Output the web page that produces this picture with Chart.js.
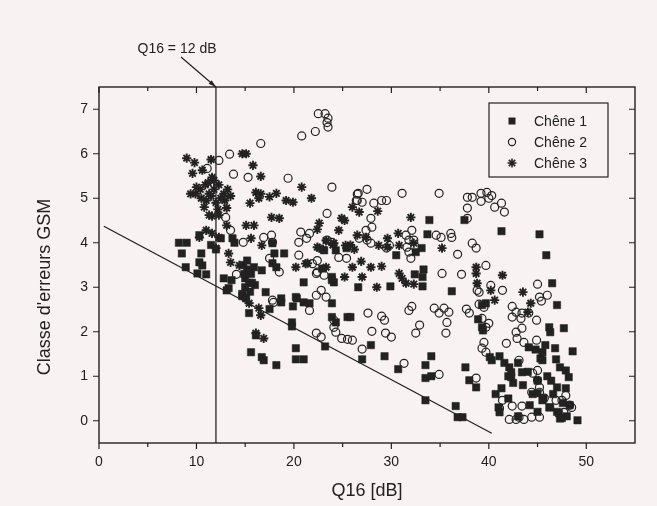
<!DOCTYPE html>
<html>
<head>
<meta charset="utf-8">
<script src="https://cdn.jsdelivr.net/npm/chart.js@4.4.1/dist/chart.umd.min.js"></script>
<style>
  html, body { margin: 0; padding: 0; background: #f8f2f2; }
  #wrap { width: 657px; height: 506px; }
</style>
</head>
<body>
<div id="wrap"><canvas id="chart" width="657" height="506"></canvas></div>
<script>
// values (x = Q16 in dB, y = GSM error class)
var chene1 = [
  [8.2,4.0],[9.0,4.0],[10.3,4.17],[8.5,3.76],[10.5,3.76],[10.3,3.56],[10.6,3.49],[8.9,3.45],[10.1,3.31],[11.0,3.29],
  [11.5,3.95],[12.0,3.85],[12.5,4.1],[13.7,4.1],[13.9,4.0],[12.8,3.2],[13.6,3.16],[13.1,2.93],[14.8,3.5],[15.2,3.4],
  [15.6,3.3],[15.0,3.2],[15.4,3.1],[15.0,3.0],[15.5,2.9],[14.7,2.8],[15.9,3.45],[16.0,3.05],[15.2,3.6],[14.9,3.3],
  [15.7,3.1],[16.7,3.38],[17.1,2.89],[17.8,3.99],[18.0,3.76],[17.8,3.54],[18.2,3.45],[19.0,3.76],[21.0,3.11],[22.9,3.42],
  [23.9,3.23],[24.1,3.11],[20.2,2.78],[23.1,3.83],[24.3,3.83],[25.4,3.88],[18.7,2.75],[13.3,2.98],[14.7,2.85],[15.1,2.75],
  [15.4,2.42],[17.5,2.51],[18.7,2.66],[19.9,2.57],[20.3,2.75],[21.0,2.66],[21.6,2.64],[19.8,2.21],[19.8,2.12],[23.9,2.64],
  [23.9,2.33],[24.3,2.21],[25.5,2.33],[23.2,1.67],[16.1,1.92],[15.6,1.54],[16.7,1.43],[16.9,1.36],[18.2,1.25],[20.2,1.63],
  [20.2,1.38],[21.0,1.38],[33.9,4.51],[37.5,4.51],[33.7,4.19],[41.3,4.26],[45.2,4.19],[33.1,3.88],[30.5,3.72],[32.5,3.79],
  [45.9,3.72],[33.3,3.4],[33.2,3.23],[32.4,3.29],[33.2,3.02],[29.9,3.02],[26.6,3.0],[23.9,3.16],[36.2,2.91],[46.5,3.09],
  [47.0,2.6],[25.8,2.33],[27.9,1.7],[27.0,1.38],[29.3,1.45],[30.7,1.16],[33.5,1.25],[34.1,1.45],[33.5,0.96],[34.1,1.0],
  [33.5,0.46],[36.6,0.33],[36.8,0.08],[37.3,0.08],[37.6,1.2],[38.0,0.91],[38.7,0.75],[38.9,2.28],[39.3,2.1],[39.4,2.03],
  [39.3,2.6],[39.7,2.64],[40.1,1.43],[40.3,1.36],[46.2,2.1],[46.3,1.99],[47.7,2.08],[46.8,1.63],[48.6,1.56],[46.9,1.38],
  [47.3,1.2],[47.9,1.13],[48.2,0.98],[47.9,0.73],[49.1,0.01],[41.1,1.45],[41.6,1.3],[42.0,1.0],[42.5,0.85],[43.0,1.3],
  [43.5,0.8],[44.0,1.1],[44.5,0.6],[45.0,0.9],[45.3,1.4],[45.6,0.5],[46.0,1.0],[46.3,0.3],[46.6,0.6],[47.0,0.2],
  [47.3,0.05],[47.6,0.4],[48.0,0.1],[45.0,0.2],[44.2,0.35],[43.0,0.1],[41.0,0.3],[40.7,0.6],[42.0,0.5],[44.8,1.6],
  [45.8,1.7],[46.4,0.9],[47.0,0.75],[48.3,0.35],[42.1,1.2],[42.3,1.09],[42.3,0.98],[43.4,1.09],[44.1,1.65],[45.5,1.54],
  [45.5,1.36],[41.3,0.73],[41.1,0.19],[45.0,0.62],[45.5,0.46],[46.2,0.3],[47.2,0.17],[47.5,0.06]
];
var chene2 = [
  [22.5,6.9],[23.2,6.9],[23.5,6.8],[23.4,6.7],[23.5,6.6],[22.2,6.5],[20.8,6.4],[16.6,6.23],[13.4,5.99],[12.3,5.85],
  [11.1,5.67],[13.8,5.54],[15.3,5.47],[19.4,5.45],[23.9,5.25],[26.5,5.09],[26.5,4.95],[23.4,4.66],[13.0,4.57],[13.5,4.28],
  [14.8,4.01],[16.9,4.12],[17.7,4.17],[17.8,4.01],[20.7,4.24],[21.6,4.21],[21.3,4.1],[20.5,4.01],[20.5,3.72],[21.9,3.53],
  [22.4,3.6],[17.5,3.65],[18.5,3.34],[22.3,3.31],[22.8,2.93],[22.3,2.82],[23.3,2.78],[24.6,3.67],[25.4,3.65],[14.1,3.29],
  [17.8,2.71],[27.5,5.2],[26.6,5.11],[26.4,4.95],[27.0,4.91],[28.2,4.89],[29.0,4.95],[29.5,4.95],[31.1,5.11],[34.9,5.11],
  [37.8,5.02],[38.3,5.02],[39.2,5.11],[39.8,5.13],[40.3,5.06],[39.2,4.93],[40.0,5.0],[41.3,4.89],[40.6,4.8],[41.6,4.69],
  [37.8,4.78],[37.8,4.55],[27.9,4.55],[28.0,4.35],[27.4,4.28],[26.7,4.1],[32.1,4.28],[31.5,4.17],[32.3,4.06],[34.6,4.17],
  [35.1,4.12],[36.1,4.21],[36.2,4.12],[38.3,3.99],[38.7,3.88],[23.4,4.06],[23.9,4.01],[27.5,4.06],[27.9,3.99],[29.5,3.88],
  [29.8,3.94],[31.8,4.06],[31.6,3.9],[31.8,3.79],[32.0,3.65],[36.8,3.74],[35.2,3.31],[37.2,3.29],[39.7,3.49],[39.0,2.89],
  [40.2,3.04],[41.4,2.93],[45.0,3.07],[45.2,2.78],[46.0,2.82],[22.4,3.34],[23.1,3.27],[17.9,2.66],[21.6,2.48],[22.3,1.97],
  [22.8,1.88],[24.1,2.1],[24.3,1.99],[24.9,1.85],[25.5,1.83],[45.4,2.69],[38.8,2.93],[39.0,2.62],[39.5,2.55],[39.3,2.3],
  [40.0,2.19],[39.7,2.1],[39.5,1.76],[39.3,1.63],[39.7,1.54],[42.4,2.57],[42.8,2.44],[43.4,2.42],[42.4,2.33],[43.3,2.3],
  [44.1,2.42],[44.9,2.26],[42.8,1.99],[43.4,2.08],[42.9,1.85],[43.6,1.76],[44.9,1.81],[41.8,1.74],[43.1,1.36],[44.5,1.07],
  [45.0,1.13],[45.0,0.91],[45.2,0.75],[44.4,0.64],[45.2,0.64],[45.7,0.51],[46.9,0.46],[47.5,0.46],[47.9,0.57],[48.3,0.35],
  [48.5,0.3],[47.7,0.19],[41.4,0.46],[42.4,0.33],[43.4,0.33],[41.1,0.28],[42.1,0.03],[42.8,0.03],[43.1,0.08],[43.6,0.03],
  [44.4,0.08],[45.2,0.08],[27.6,2.42],[29.0,2.35],[29.3,2.26],[31.8,2.48],[32.1,2.57],[34.4,2.53],[34.9,2.42],[35.4,2.53],
  [35.9,2.44],[37.7,2.51],[38.0,2.42],[32.9,2.15],[32.5,1.97],[35.7,2.21],[35.6,1.97],[28.0,2.01],[29.4,1.97],[30.0,1.88],
  [27.0,1.61],[31.3,1.29],[34.9,1.04],[38.7,0.96],[24.1,2.26],[26.0,1.81]
];
var chene3 = [
  [9.0,5.9],[9.8,5.8],[11.5,5.87],[9.6,5.56],[10.6,5.63],[11.6,5.47],[14.7,6.0],[15.1,6.0],[15.8,5.74],[16.6,5.49],
  [20.8,5.25],[21.8,5.0],[18.2,5.11],[16.1,5.13],[16.6,5.1],[15.5,4.89],[16.4,5.0],[17.5,5.03],[19.2,4.95],[19.9,4.91],
  [9.4,5.1],[9.9,5.1],[10.4,5.2],[10.9,5.3],[11.3,5.1],[11.8,5.2],[12.3,5.3],[12.8,5.1],[13.2,5.2],[11.0,4.95],
  [12.0,4.9],[12.9,4.95],[11.5,5.05],[10.0,5.25],[10.5,5.0],[11.2,5.35],[12.5,5.0],[13.5,5.05],[10.8,4.8],[12.2,4.75],
  [11.6,4.6],[17.7,4.57],[26.0,4.8],[24.9,4.55],[11.8,5.4],[11.3,4.62],[12.3,4.62],[13.1,4.78],[18.5,4.55],[15.1,4.39],
  [15.9,4.39],[13.1,4.39],[11.0,4.28],[11.6,4.21],[10.3,4.12],[12.3,4.12],[12.0,3.88],[15.6,4.1],[16.7,3.94],[13.3,3.76],
  [22.6,4.44],[22.4,3.9],[24.6,4.28],[25.2,4.5],[20.2,3.45],[21.2,3.53],[23.3,3.45],[25.2,3.23],[14.4,3.49],[13.5,3.56],
  [24.1,3.99],[25.3,3.94],[26.7,4.69],[28.6,4.71],[22.4,4.3],[26.5,4.17],[27.4,4.12],[29.6,4.1],[30.7,4.21],[32.0,4.57],
  [23.3,4.05],[24.0,3.95],[25.8,3.95],[26.2,3.85],[23.0,3.85],[28.7,3.94],[29.6,3.9],[30.8,3.94],[32.3,3.99],[35.2,3.88],
  [22.6,3.88],[21.4,3.54],[26.0,3.45],[26.9,3.58],[27.9,3.45],[29.0,3.47],[27.0,3.23],[30.8,3.31],[31.1,3.2],[31.5,3.09],
  [32.3,3.07],[28.5,3.0],[38.7,3.45],[38.7,3.31],[38.8,3.09],[41.4,3.27],[40.2,2.93],[43.5,2.89],[15.4,2.64],[16.4,2.53],
  [16.6,2.37],[16.1,1.97],[16.9,1.85],[40.6,2.71],[44.3,2.64],[44.0,2.44]
];
// the two reference lines drawn in the figure
var limitLine = [[0.5,4.37],[40.3,-0.28]];
var q16Line = [[12,-0.5],[12,7.5]];

var xMajor = [0, 10, 20, 30, 40, 50];
var xMinor = [5, 15, 25, 35, 45];
var yMajor = [0, 1, 2, 3, 4, 5, 6, 7];

var seriesNames = ['Chêne 1', 'Chêne 2', 'Chêne 3'];

var ink = '#222';
var paper = '#f8f2f2';
var fontName = '"Liberation Sans", Arial, Helvetica, sans-serif';

function toXY(arr) {
  return arr.map(function(p) { return { x: p[0], y: p[1] }; });
}

function marker(ctx, style, x, y) {
  ctx.save();
  ctx.strokeStyle = ink;
  ctx.fillStyle = ink;
  if (style === 'rect') {
    ctx.fillRect(x - 3.5, y - 3.5, 7, 7);
  } else if (style === 'circle') {
    ctx.lineWidth = 1.2;
    ctx.beginPath();
    ctx.arc(x, y, 3.6, 0, Math.PI * 2);
    ctx.stroke();
  } else {
    ctx.lineWidth = 1.6;
    ctx.beginPath();
    for (var i = 0; i < 4; i++) {
      var a = i * Math.PI / 4;
      ctx.moveTo(x - 4.5 * Math.cos(a), y - 4.5 * Math.sin(a));
      ctx.lineTo(x + 4.5 * Math.cos(a), y + 4.5 * Math.sin(a));
    }
    ctx.stroke();
  }
  ctx.restore();
}

var decor = {
  id: 'decor',
  beforeDraw: function(chart) {
    var ctx = chart.ctx;
    ctx.save();
    ctx.fillStyle = paper;
    ctx.fillRect(0, 0, chart.width, chart.height);
    ctx.restore();
  },
  afterDraw: function(chart) {
    var ctx = chart.ctx;
    var a = chart.chartArea;
    var xs = chart.scales.x, ys = chart.scales.y;
    ctx.save();
    ctx.strokeStyle = ink;
    ctx.lineWidth = 1.4;
    ctx.strokeRect(a.left, a.top, a.right - a.left, a.bottom - a.top);

    // ticks: out on bottom/left, in on top/right
    ctx.lineWidth = 1.2;
    ctx.beginPath();
    xMajor.concat(xMinor).forEach(function(v) {
      var p = xs.getPixelForValue(v);
      var len = xMajor.indexOf(v) >= 0 ? 6 : 4;
      ctx.moveTo(p, a.bottom); ctx.lineTo(p, a.bottom + len);
      ctx.moveTo(p, a.top); ctx.lineTo(p, a.top + len);
    });
    yMajor.forEach(function(v) {
      var p = ys.getPixelForValue(v);
      ctx.moveTo(a.left - 6, p); ctx.lineTo(a.left, p);
      ctx.moveTo(a.right - 6, p); ctx.lineTo(a.right, p);
    });
    ctx.stroke();

    // y title
    ctx.fillStyle = ink;
    ctx.font = '18px ' + fontName;
    ctx.textAlign = 'center';
    ctx.textBaseline = 'middle';
    ctx.save();
    ctx.translate(45, 287);
    ctx.rotate(-Math.PI / 2);
    ctx.fillText("Classe d'erreurs GSM", 0, 0);
    ctx.restore();

    // Q16 annotation with arrow
    var tipX = xs.getPixelForValue(12), tipY = a.top;
    ctx.font = '14px ' + fontName;
    ctx.fillText('Q16 = 12 dB', 177, 49);
    ctx.lineWidth = 1.2;
    ctx.beginPath();
    ctx.moveTo(181, 57);
    ctx.lineTo(tipX, tipY);
    ctx.stroke();
    var ang = Math.atan2(tipY - 57, tipX - 181);
    ctx.beginPath();
    ctx.moveTo(tipX, tipY);
    ctx.lineTo(tipX - 8 * Math.cos(ang - 0.3), tipY - 8 * Math.sin(ang - 0.3));
    ctx.lineTo(tipX - 8 * Math.cos(ang + 0.3), tipY - 8 * Math.sin(ang + 0.3));
    ctx.closePath();
    ctx.fill();

    // legend box
    var bx = a.right - 146, by = a.top + 16, bw = 119, bh = 74;
    ctx.fillStyle = paper;
    ctx.fillRect(bx, by, bw, bh);
    ctx.strokeStyle = ink;
    ctx.lineWidth = 1.2;
    ctx.strokeRect(bx, by, bw, bh);
    var styles = ['rect', 'circle', 'star'];
    ctx.font = '14px ' + fontName;
    ctx.textAlign = 'left';
    for (var i = 0; i < 3; i++) {
      var ry = by + 18 + i * 21;
      marker(ctx, styles[i], bx + 23, ry);
      ctx.fillStyle = ink;
      ctx.fillText(seriesNames[i], bx + 45, ry + 1);
    }
    ctx.restore();
  }
};

var ctx = document.getElementById('chart').getContext('2d');
var chart = new Chart(ctx, {
  type: 'scatter',
  data: {
    datasets: [
      {
        label: seriesNames[0],
        data: toXY(chene1),
        pointStyle: 'rect',
        pointRadius: 5.2,
        backgroundColor: ink,
        borderColor: ink,
        borderWidth: 0.5
      },
      {
        label: seriesNames[1],
        data: toXY(chene2),
        pointStyle: 'circle',
        pointRadius: 4,
        backgroundColor: 'rgba(0,0,0,0)',
        borderColor: ink,
        borderWidth: 1.2
      },
      {
        label: seriesNames[2],
        data: toXY(chene3),
        pointStyle: 'star',
        pointRadius: 4.6,
        backgroundColor: ink,
        borderColor: ink,
        borderWidth: 1.9
      },
      {
        type: 'line',
        label: 'limite',
        data: toXY(limitLine),
        showLine: true,
        pointRadius: 0,
        borderColor: ink,
        borderWidth: 1.3,
        fill: false
      },
      {
        type: 'line',
        label: 'Q16',
        data: toXY(q16Line),
        showLine: true,
        pointRadius: 0,
        borderColor: ink,
        borderWidth: 1.3,
        fill: false
      }
    ]
  },
  options: {
    responsive: false,
    animation: false,
    layout: { padding: { top: 87, right: 22, left: 0, bottom: 0 } },
    plugins: {
      legend: { display: false },
      tooltip: { enabled: false }
    },
    scales: {
      x: {
        type: 'linear',
        min: 0,
        max: 55,
        grid: { display: false, drawTicks: false },
        border: { display: false },
        afterFit: function(s) { s.height = 63; },
        afterBuildTicks: function(s) { s.ticks = xMajor.map(function(v) { return { value: v }; }); },
        ticks: { color: ink, padding: 11, font: { family: fontName, size: 14 } },
        title: {
          display: true,
          text: 'Q16 [dB]',
          color: ink,
          padding: { top: 0, bottom: 4 },
          font: { family: fontName, size: 18 }
        }
      },
      y: {
        type: 'linear',
        min: -0.5,
        max: 7.5,
        grid: { display: false, drawTicks: false },
        border: { display: false },
        afterFit: function(s) { s.width = 99; },
        afterBuildTicks: function(s) { s.ticks = yMajor.map(function(v) { return { value: v }; }); },
        ticks: { color: ink, padding: 11, font: { family: fontName, size: 14 } }
      }
    }
  },
  plugins: [decor]
});
</script>
</body>
</html>
